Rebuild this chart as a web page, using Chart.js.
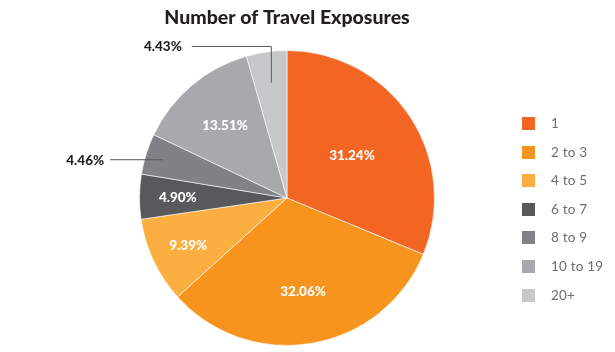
<!DOCTYPE html>
<html>
<head>
<meta charset="utf-8">
<script src="https://cdn.jsdelivr.net/npm/chart.js@4"></script>
<style>
  body { margin: 0; background: #fff; }
  #wrap { position: relative; width: 615px; height: 352px; }
  #legend { position: absolute; left: 522px; top: 117px; font-family: Lato, "Open Sans", sans-serif; font-size: 13.5px; color: #6d6e71; letter-spacing: 0.2px; }
  #legend div { height: 28.6px; position: relative; }
  #legend span.box { position: absolute; left: 0; top: 0; width: 13px; height: 13px; }
  #legend span.txt { position: absolute; left: 29px; top: -1px; line-height: 15px; white-space: nowrap; }
</style>
</head>
<body>
<div id="wrap">
  <canvas id="pie" width="615" height="352"></canvas>
  <div id="legend"></div>
</div>
<script>
// data
var categories = ["1", "2 to 3", "4 to 5", "6 to 7", "8 to 9", "10 to 19", "20+"];
var shares = [31.24, 32.06, 9.39, 4.90, 4.46, 13.51, 4.43];
var sliceColors = ["#f26522", "#f7941d", "#fbaf41", "#58595b", "#808285", "#a7a9ac", "#c7c8ca"];

// where each percent label sits (fraction of radius), and which ones get a leader line
var labelSpots = [
  {frac: 0.53}, {frac: 0.64}, {frac: 0.74}, {frac: 0.74},
  {frac: 0.88, out: "left"}, {frac: 0.65}, {frac: 0.79, out: "up"}
];

//draw the percent labels on top of the slices
var percentLabels = {
  id: "percentLabels",
  afterDatasetsDraw: function(chart) {
    var ctx = chart.ctx;
    var meta = chart.getDatasetMeta(0);
    ctx.save();
    ctx.font = "900 13.5px Lato, 'Open Sans', sans-serif";
    ctx.textBaseline = "middle";
    meta.data.forEach(function(arc, i) {
      var spot = labelSpots[i];
      var mid = (arc.startAngle + arc.endAngle) / 2;
      var r = arc.outerRadius * spot.frac;
      var ax = arc.x + Math.cos(mid) * r;
      var ay = arc.y + Math.sin(mid) * r;
      var txt = shares[i].toFixed(2) + "%";
      if (!spot.out) {
        ctx.fillStyle = "#ffffff";
        ctx.textAlign = "center";
        ctx.fillText(txt, ax, ay + 1);
        return;
      }
      ctx.strokeStyle = "#58595b";
      ctx.lineWidth = 1;
      ctx.beginPath();
      var tx, ty;
      if (spot.out == "left") {
        ctx.moveTo(ax, ay + 0.5);
        ctx.lineTo(ax - 53, ay + 0.5);
        tx = ax - 59; ty = ay + 1;
      } else {
        var topY = chart.chartArea.top - 4;
        ctx.moveTo(ax + 0.5, ay);
        ctx.lineTo(ax + 0.5, topY + 0.5);
        ctx.lineTo(ax - 79, topY + 0.5);
        tx = ax - 89; ty = topY + 1;
      }
      ctx.stroke();
      ctx.fillStyle = "#231f20";
      ctx.textAlign = "right";
      ctx.fillText(txt, tx, ty);
    });
    ctx.restore();
  }
};

var chart = new Chart(document.getElementById("pie"), {
  type: "pie",
  data: {
    labels: categories,
    datasets: [{
      data: shares,
      backgroundColor: sliceColors,
      borderColor: "rgba(255,255,255,0.6)",
      borderWidth: 1
    }]
  },
  options: {
    responsive: false,
    animation: false,
    layout: { padding: { left: 0, right: 41, top: 0, bottom: 6 } },
    plugins: {
      legend: { display: false },
      tooltip: { enabled: false },
      title: {
        display: true,
        text: "Number of Travel Exposures",
        color: "#231f20",
        font: { family: "Lato, 'Open Sans', sans-serif", size: 19.5, weight: "900" },
        padding: { top: 6, bottom: 20.6 }
      }
    }
  },
  plugins: [percentLabels]
});

//build the legend from the same arrays
var legend = document.getElementById("legend");
categories.forEach(function(name, i) {
  var row = document.createElement("div");
  row.innerHTML = '<span class="box" style="background:' + sliceColors[i] + '"></span><span class="txt">' + name + '</span>';
  legend.appendChild(row);
});
</script>
</body>
</html>
